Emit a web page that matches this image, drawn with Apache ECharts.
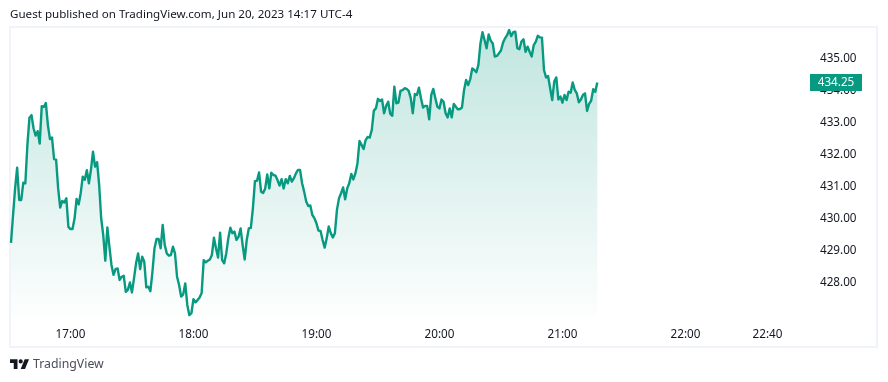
<!DOCTYPE html>
<html>
<head>
<meta charset="utf-8">
<style>html,body{margin:0;padding:0;background:#fff}#c{width:888px;height:382px}</style>
<script src="https://cdn.jsdelivr.net/npm/echarts@6/dist/echarts.min.js"></script>
</head>
<body>
<div id="c"></div>
<script>
const titleText = 'Guest published on TradingView.com, Jun 20, 2023 14:17 UTC-4';
const brandText = 'TradingView';
const startMinute = 31; // minutes after 16:00
const prices = [
429.24,430.11,430.94,431.59,430.58,430.58,431.12,431.10,432.30,433.15,433.23,432.82,432.59,432.73,432.34,433.51,433.49,433.61,432.92,432.48,432.53,431.86,431.84,430.94,430.34,430.55,430.50,430.63,429.74,429.67,429.67,430.00,430.61,430.44,430.79,431.31,431.21,431.51,431.10,431.52,432.09,431.62,431.76,431.05,430.00,429.48,428.68,429.72,
429.12,428.55,428.24,428.42,428.44,428.08,428.18,428.21,427.71,427.77,428.00,427.69,428.13,428.60,428.91,428.42,428.81,428.65,427.85,427.87,427.73,428.34,429.07,429.36,429.36,429.07,429.80,429.17,428.91,428.84,428.86,429.12,428.91,428.18,427.92,427.56,427.63,427.97,427.30,426.98,427.04,427.48,427.38,427.45,427.53,
427.67,428.70,428.63,428.68,428.72,428.86,429.40,429.07,428.78,429.56,428.70,428.60,428.91,429.38,429.71,429.54,429.59,429.33,429.43,429.69,429.17,428.72,429.33,429.69,429.71,430.32,431.17,431.18,431.44,430.84,430.80,430.94,431.38,430.94,431.43,431.36,431.34,431.20,431.03,431.23,430.94,431.23,431.10,431.33,431.15,431.26,
431.41,431.52,431.52,431.10,430.84,430.53,430.39,430.41,430.11,430.01,429.85,429.62,429.61,429.33,429.09,429.38,429.75,429.54,429.41,429.54,430.27,430.63,430.79,430.97,430.60,430.94,431.10,431.39,431.22,431.41,431.72,432.42,432.30,432.17,432.45,432.55,432.53,432.77,
433.37,433.44,433.74,433.67,433.72,433.29,433.52,433.65,433.27,433.21,
434.12,433.60,433.62,433.99,434.01,434.07,434.05,433.99,433.76,433.29,
433.89,433.86,434.09,433.76,433.47,433.52,433.52,433.10,433.86,434.05,
433.76,433.49,433.44,433.72,433.65,433.29,433.16,433.44,433.16,433.58,
433.49,433.41,433.42,433.47,434.01,434.33,434.17,434.35,434.69,434.64,
434.57,434.80,435.47,435.82,435.58,435.32,435.75,435.56,435.47,435.06,
435.08,435.16,435.25,435.49,435.63,435.73,435.89,435.70,435.82,435.84,
435.32,435.29,435.53,435.60,435.21,435.37,435.21,435.06,435.42,435.53,
435.71,435.66,435.65,434.64,434.41,434.45,434.07,433.70,434.28,434.41,
433.72,433.81,433.62,433.86,433.70,433.96,433.93,434.25,434.02,433.91,
433.63,433.72,433.86,433.91,433.36,433.58,433.68,434.04,433.96,434.25
];
const lastPrice = 434.25;
const priceTicks = [428,429,430,431,432,433,434,435];
const timeTicks = [60,120,180,240,300,360,400]; // minutes after 16:00

const font = '"Noto Sans", sans-serif';
const seriesData = prices.map((p, i) => [startMinute + i, p]);
const fmtTime = m => { const h = 16 + Math.floor(m / 60); const mm = m % 60; return h + ':' + String(mm).padStart(2, '0'); };

const chart = echarts.init(document.getElementById('c'), null, {renderer: 'canvas'});
const xMax = 420.76;
chart.setOption({
  animation: false,
  backgroundColor: '#ffffff',
  grid: {left: 11, top: 28, width: 799, height: 294, containLabel: false},
  xAxis: {
    type: 'value', min: startMinute, max: xMax,
    splitLine: {show: false}, axisLine: {show: false}, axisTick: {show: false},
    axisLabel: {
      customValues: timeTicks, margin: 7, showMinLabel: true, showMaxLabel: true,
      fontFamily: font, fontSize: 11.7, color: '#131722',
      formatter: v => fmtTime(v)
    }
  },
  yAxis: {
    type: 'value', position: 'right', min: 426.766, max: 435.953, scale: true,
    splitLine: {show: false}, axisLine: {show: false}, axisTick: {show: false},
    axisLabel: {
      customValues: priceTicks, margin: 10, fontFamily: font, fontSize: 11.7, color: '#131722',
      padding: [4, 0, 0, 0],
      formatter: v => v.toFixed(2)
    }
  },
  series: [{
    type: 'line', data: seriesData, showSymbol: false, symbol: 'none', smooth: false,
    lineStyle: {color: '#089981', width: 2.4, join: 'round'},
    itemStyle: {color: '#089981'},
    areaStyle: {
      origin: 426.95,
      color: new echarts.graphic.LinearGradient(0, 0, 0, 1, [
        {offset: 0, color: 'rgba(8,153,129,0.36)'},
        {offset: 1, color: 'rgba(8,153,129,0.015)'}
      ])
    },
    markPoint: {
      silent: true,
      symbol: 'rect', symbolSize: [52, 17], symbolOffset: [26, 0],
      itemStyle: {color: '#089981'},
      label: {show: true, position: 'inside', offset: [0, 0], color: '#ffffff', fontFamily: font, fontSize: 11.7,
        formatter: () => lastPrice.toFixed(2)},
      data: [{coord: [xMax, lastPrice], value: lastPrice}]
    }
  }],
  graphic: [
    {type: 'rect', z: -1, shape: {x: 10, y: 27, width: 867, height: 320},
      style: {fill: 'none', stroke: '#f0f3fa', lineWidth: 2}},
    {type: 'text', x: 10, y: 9, style: {text: titleText, fontFamily: font, fontSize: 11.6, fill: '#131722'}},
    {type: 'text', x: 33, y: 358, style: {text: brandText, fontFamily: font, fontSize: 12.3, fill: '#4a4e5a'}},
    {type: 'polygon', shape: {points: [[10,359.3],[17.5,359.3],[17.5,368.9],[13.75,368.9],[13.75,363],[10,363]]}, style: {fill: '#131722'}},
    {type: 'polygon', shape: {points: [[20.7,368.9],[24.7,359.3],[29,359.3],[25,368.9]]}, style: {fill: '#131722'}},
    {type: 'circle', shape: {cx: 20.7, cy: 361.4, r: 2.1}, style: {fill: '#131722'}}
  ]
});
</script>
</body>
</html>
